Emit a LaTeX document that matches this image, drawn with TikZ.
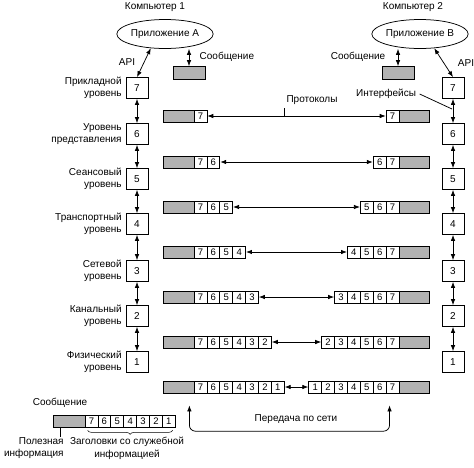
\documentclass[tikz,border=0pt]{standalone}
\usepackage{fontspec}
\setmainfont{Liberation Sans}
\usetikzlibrary{arrows.meta,shapes.geometric,decorations.pathreplacing}
\begin{document}
\begin{tikzpicture}[x=1pt, y=-1pt, line width=0.75pt, font=\fontsize{10}{12.5}\selectfont,
	lvl/.style={draw, minimum width=22pt, minimum height=21pt, inner sep=0pt},
	app/.style={ellipse, draw, minimum width=80pt, minimum height=29pt, inner sep=0pt},
	hdr/.style={draw, minimum width=12.9pt, minimum height=12pt, inner sep=0pt, font=\fontsize{9.5}{9.5}\selectfont},
	pay/.style={draw, fill=black!30, minimum width=31pt, minimum height=12pt, inner sep=0pt},
	lbl/.style={align=right, anchor=east, inner sep=0pt},
	dbl/.style={{Latex[length=6pt,width=4.5pt]}-{Latex[length=6pt,width=4.5pt]}}]
	\useasboundingbox (0,0) rectangle (474,467);

	\node (pc1) at (155,7) {Компьютер 1};
	\node (pc2) at (413,7) {Компьютер 2};
	\node[app] (appA) at (165,34) {Приложение А};
	\node[app, minimum width=76pt] (appB) at (420,34) {Приложение В};

	\node[pay, minimum width=32pt, minimum height=13pt] (msgA) at (189,73) {};
	\node[pay, minimum width=32pt, minimum height=13pt] (msgB) at (398,73) {};
	\node[anchor=west] (txA) at (196,57) {Сообщение};
	\node[anchor=east] (txB) at (389,57) {Сообщение};
	\draw[dbl] (msgA.north) -- (msgA.north |- appA.south);
	\draw[dbl] (msgB.north) -- (msgB.north |- appB.south);

	\foreach \n/\y/\t in {7/88/{Прикладной\\уровень}, 6/134/{Уровень\\представления}, 5/179/{Сеансовый\\уровень}, 4/224/{Транспортный\\уровень}, 3/271/{Сетевой\\уровень}, 2/316/{Канальный\\уровень}, 1/362/{Физический\\уровень}} {
		\node[lvl] (L\n) at (137,\y) {\n};
		\node[lvl] (R\n) at (453,\y) {\n};
		\node[lbl] (t\n) at (122,\y) {\t};
	}
	\foreach \a/\b in {7/6, 6/5, 5/4, 4/3, 3/2, 2/1} {
		\draw[dbl] (L\a) -- (L\b);
		\draw[dbl] (R\a) -- (R\b);
	}

	\node (apiA) at (127,62) {API};
	\node (apiB) at (466,63) {API};
	\draw[dbl] (L7.north) -- (appA.225);
	\draw[dbl] (R7.north) -- (appB.315);

	\foreach \k/\y in {7/116, 6/162, 5/207, 4/252, 3/297, 2/342, 1/387} {
		\node[pay] (pl\k) at (178.5,\y) {};
		\foreach \c in {7,...,\k}
			\node[hdr] (pl\k-\c) at ({200.45+(7-\c)*12.9},\y) {\c};
		\node[pay, minimum width=30pt] (pr\k) at (414,\y) {};
		\foreach \c in {\k,...,7}
			\node[hdr] (pr\k-\c) at ({392.55-(7-\c)*12.9},\y) {\c};
		\draw[dbl] (pl\k-\k) -- (pr\k-\k);
	}

	\node (prot) at (312,100) {Протоколы};
	\draw ([xshift=2pt]prot.south west) -- ([xshift=2pt]prot.south west |- pl7-7.center);
	\node (intf) at (386,94) {Интерфейсы};
	\coordinate (ifc) at (452,109);
	\draw (intf.east) -- (ifc);

	\node (bmsg) at (60,403) {Сообщение};
	\node[pay, minimum width=32pt] (bm) at (69,421) {};
	\foreach \c in {7,...,1}
		\node[hdr] (b\c) at ({91.45+(7-\c)*12.9},421) {\c};
	\draw[decorate, decoration={brace, mirror, amplitude=4pt, raise=3pt}, line width=0.5pt] ([xshift=3pt]b7.south west) -- ([xshift=-3pt]b1.south east);
	\node[align=right, anchor=north east, inner sep=0pt] (useful) at (64,437) {Полезная\\информация};
	\draw ([xshift=-9pt]bm.south) -- ([xshift=-9pt]bm.south |- useful.north);
	\node[align=center, anchor=north, inner sep=0pt] (hdrs) at (127,437) {Заголовки со служебной\\информацией};

	\node (net) at (296,419) {Передача по сети};
	\draw[dbl, rounded corners=6pt] ([xshift=-5pt,yshift=-12pt]pl1.south east) |- ([yshift=-4pt]net.south) -| ([xshift=-3pt,yshift=-12pt]pr1-7.south);
\end{tikzpicture}
\end{document}
